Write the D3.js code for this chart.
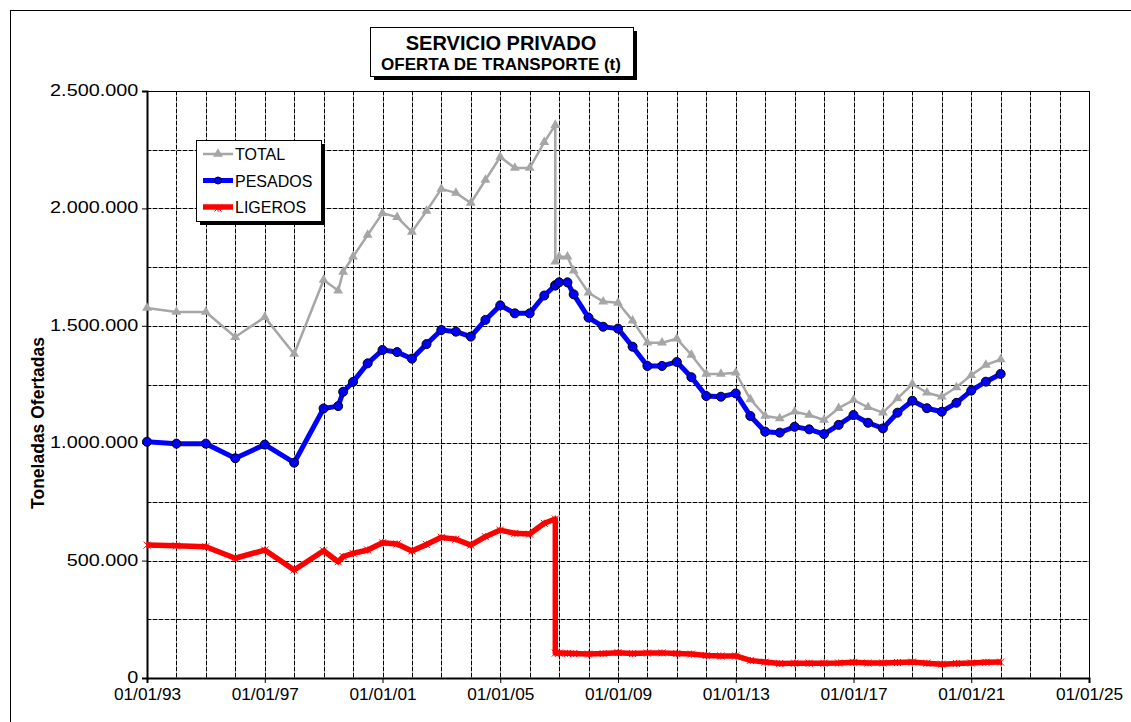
<!DOCTYPE html>
<html>
<head>
<meta charset="utf-8">
<script src="https://cdn.jsdelivr.net/npm/d3@7"></script>
<style>
  body { margin: 0; background: #fff; }
  svg { display: block; }
  text { font-family: Arial, "Liberation Sans", sans-serif; fill: #000; }
</style>
</head>
<body>
<svg id="chart" width="1131" height="722"></svg>
<script>
// Observation dates (yearly to 1999, half-yearly afterwards; series break in late 2006)
const dates = [
  "1993-01-01","1994-01-01","1995-01-01","1996-01-01","1997-01-01","1998-01-01",
  "1999-01-01","1999-07-01","1999-09-01","2000-01-01","2000-07-01","2001-01-01",
  "2001-07-01","2002-01-01","2002-07-01","2003-01-01","2003-07-01","2004-01-01",
  "2004-07-01","2005-01-01","2005-07-01","2006-01-01","2006-07-01","2006-11-15",
  "2006-11-15","2007-01-01","2007-04-15","2007-07-01","2008-01-01","2008-07-01",
  "2009-01-01","2009-07-01","2010-01-01","2010-07-01","2011-01-01","2011-07-01",
  "2012-01-01","2012-07-01","2013-01-01","2013-07-01","2014-01-01","2014-07-01",
  "2015-01-01","2015-07-01","2016-01-01","2016-07-01","2017-01-01","2017-07-01",
  "2018-01-01","2018-07-01","2019-01-01","2019-07-01","2020-01-01","2020-07-01",
  "2021-01-01","2021-07-01","2022-01-01"
];

// Tonnes offered
const total = [
  1576000,1559000,1559000,1452000,1537000,1380000,
  1695000,1650000,1730000,1794000,1887000,1980000,
  1963000,1900000,1989000,2083000,2066000,2023000,
  2121000,2219000,2172000,2172000,2282000,2355000,
  1773000,1794000,1794000,1735000,1641000,1603000,
  1598000,1522000,1428000,1428000,1445000,1376000,
  1295000,1295000,1300000,1187000,1116000,1106000,
  1134000,1120000,1099000,1149000,1184000,1153000,
  1130000,1191000,1252000,1215000,1198000,1238000,
  1290000,1333000,1357000
];
const pesados = [
  1006000,998000,998000,936000,994000,917000,
  1148000,1158000,1219000,1261000,1340000,1397000,
  1388000,1360000,1422000,1482000,1475000,1454000,
  1525000,1587000,1553000,1553000,1629000,1672000,
  1672000,1685000,1685000,1634000,1535000,1496000,
  1488000,1411000,1329000,1329000,1346000,1281000,
  1201000,1198000,1212000,1116000,1049000,1045000,
  1070000,1059000,1039000,1078000,1120000,1087000,
  1063000,1130000,1181000,1149000,1134000,1172000,
  1224000,1262000,1295000
];
const ligeros = [
  566000,563000,559000,510000,545000,460000,
  542000,495000,517000,531000,545000,576000,
  571000,541000,569000,599000,591000,566000,
  602000,630000,616000,613000,659000,677000,
  106000,106000,105000,104000,102000,104000,
  108000,104000,106000,107000,104000,102000,
  96000,94000,94000,75000,68000,62000,
  63000,63000,63000,64000,67000,64000,
  64000,66000,68000,63000,59000,62000,
  64000,67000,68000
];

const seriesNames = ["TOTAL", "PESADOS", "LIGEROS"];
const yTicks = [0, 500000, 1000000, 1500000, 2000000, 2500000];
const yGridStep = 250000;
const xTickYears = [1993, 1997, 2001, 2005, 2009, 2013, 2017, 2021, 2025];
const titleLines = ["SERVICIO PRIVADO", "OFERTA DE TRANSPORTE (t)"];
const yTitle = "Toneladas Ofertadas";

const parse = d3.timeParse("%Y-%m-%d");
const when = dates.map(parse);

const svg = d3.select("#chart");
const W = 1131, H = 722;
const plot = { left: 147, right: 1089, top: 91, bottom: 678 };

const x = d3.scaleTime()
  .domain([new Date(1993, 0, 1), new Date(2025, 0, 1)])
  .range([plot.left, plot.right]);
const y = d3.scaleLinear()
  .domain([0, 2500000])
  .range([plot.bottom, plot.top]);

const es = d3.formatLocale({ decimal: ",", thousands: ".", grouping: [3], currency: ["", " €"] });
const fmtY = es.format(",.0f");
const fmtX = d3.timeFormat("%d/%m/%y");

// outer frame
svg.append("rect")
  .attr("x", 10.5).attr("y", 10.5)
  .attr("width", W).attr("height", H)
  .attr("fill", "#fff").attr("stroke", "#000").attr("stroke-width", 1);

// plot background
svg.append("rect")
  .attr("x", plot.left).attr("y", plot.top)
  .attr("width", plot.right - plot.left).attr("height", plot.bottom - plot.top)
  .attr("fill", "#fff");

// grid: gray rule under black dashes
const grid = svg.append("g");
const yearLines = d3.timeYear.range(new Date(1994, 0, 1), new Date(2025, 0, 2));
const hLines = d3.range(yGridStep, 2500000 + 1, yGridStep);
function gridLayer(color, dash, width) {
  const g = grid.append("g").attr("stroke", color).attr("stroke-width", width)
    .attr("stroke-dasharray", dash).attr("fill", "none");
  g.selectAll("line.v").data(yearLines).join("line").attr("class", "v")
    .attr("x1", d => Math.round(x(d)) + 0.5).attr("x2", d => Math.round(x(d)) + 0.5)
    .attr("y1", plot.top).attr("y2", plot.bottom);
  g.selectAll("line.h").data(hLines).join("line").attr("class", "h")
    .attr("x1", plot.left).attr("x2", plot.right)
    .attr("y1", d => Math.round(y(d)) + 0.5).attr("y2", d => Math.round(y(d)) + 0.5);
}
gridLayer("#a0a0a0", null, 1);
gridLayer("#000", "4,2", 1);

// plot frame
svg.append("rect")
  .attr("x", plot.left + 0.5).attr("y", plot.top + 0.5)
  .attr("width", plot.right - plot.left).attr("height", plot.bottom - plot.top)
  .attr("fill", "none").attr("stroke", "#000").attr("stroke-width", 1);

// axes (tick labels are set wide, as in the printed sheet)
const yAxis = d3.axisLeft(y).tickValues(yTicks).tickFormat(fmtY).tickSize(5).tickPadding(2);
const gy = svg.append("g").attr("transform", `translate(${plot.left},0)`).call(yAxis);
gy.select(".domain").attr("stroke-width", 2);
gy.selectAll("text").attr("font-size", 16).attr("font-family", "Arial, 'Liberation Sans', sans-serif")
  .attr("dy", "0.28em")
  .attr("transform", "scale(1.24,1)");

const xAxis = d3.axisBottom(x)
  .tickValues(xTickYears.map(yr => new Date(yr, 0, 1)))
  .tickFormat(fmtX).tickSize(5).tickPadding(6);
const gx = svg.append("g").attr("transform", `translate(0,${plot.bottom})`).call(xAxis);
gx.select(".domain").attr("stroke-width", 2);
gx.selectAll("text").attr("font-size", 16).attr("font-family", "Arial, 'Liberation Sans', sans-serif")
  .attr("transform", "scale(1.08,1)");

// y title
svg.append("text")
  .attr("transform", `translate(44,423) rotate(-90)`)
  .attr("text-anchor", "middle")
  .attr("font-size", 17.5).attr("font-weight", "bold")
  .text(yTitle);

// series
const rows = when.map((d, i) => ({ d, t: total[i], p: pesados[i], l: ligeros[i] }));
const lineOf = key => d3.line().x(r => x(r.d)).y(r => y(r[key]));

const styles = {
  TOTAL:   { key: "t", color: "#a6a6a6", width: 2.5 },
  PESADOS: { key: "p", color: "#0000ff", width: 5 },
  LIGEROS: { key: "l", color: "#ff0000", width: 5.5 }
};

const triangle = d3.symbol().type(d3.symbolTriangle).size(42);
function star(g, cx, cy, color) {
  const s = 3.5;
  g.append("path")
    .attr("d", `M${cx - s},${cy - s}L${cx + s},${cy + s}M${cx - s},${cy + s}L${cx + s},${cy - s}M${cx},${cy - s}L${cx},${cy + s}`)
    .attr("stroke", color).attr("stroke-width", 1).attr("fill", "none");
}

// TOTAL
svg.append("path").datum(rows)
  .attr("d", lineOf("t")).attr("fill", "none")
  .attr("stroke", styles.TOTAL.color).attr("stroke-width", styles.TOTAL.width)
  .attr("stroke-linejoin", "round");
svg.append("g").selectAll("path").data(rows).join("path")
  .attr("d", triangle).attr("fill", styles.TOTAL.color)
  .attr("transform", r => `translate(${x(r.d)},${y(r.t)})`);

// LIGEROS
svg.append("path").datum(rows)
  .attr("d", lineOf("l")).attr("fill", "none")
  .attr("stroke", styles.LIGEROS.color).attr("stroke-width", styles.LIGEROS.width)
  .attr("stroke-linejoin", "round");
const gl = svg.append("g");
rows.forEach(r => star(gl, x(r.d), y(r.l), "#ff0000"));

// PESADOS
svg.append("path").datum(rows)
  .attr("d", lineOf("p")).attr("fill", "none")
  .attr("stroke", styles.PESADOS.color).attr("stroke-width", styles.PESADOS.width)
  .attr("stroke-linejoin", "round");
svg.append("g").selectAll("circle").data(rows).join("circle")
  .attr("cx", r => x(r.d)).attr("cy", r => y(r.p)).attr("r", 4.5)
  .attr("fill", "#0000ff").attr("stroke", "#000").attr("stroke-width", 1);

// legend
const lg = svg.append("g").attr("transform", "translate(196,140)");
lg.append("rect").attr("x", 4).attr("y", 4).attr("width", 125).attr("height", 81).attr("fill", "#000");
lg.append("rect").attr("x", 0.5).attr("y", 0.5).attr("width", 125).attr("height", 81)
  .attr("fill", "#fff").attr("stroke", "#000");
seriesNames.forEach((name, i) => {
  const st = styles[name];
  const yy = 14 + i * 26.5;
  lg.append("line").attr("x1", 7).attr("x2", 37).attr("y1", yy).attr("y2", yy)
    .attr("stroke", st.color).attr("stroke-width", st.width);
  if (name === "TOTAL") {
    lg.append("path").attr("d", triangle).attr("fill", st.color).attr("transform", `translate(22,${yy})`);
  } else if (name === "PESADOS") {
    lg.append("circle").attr("cx", 22).attr("cy", yy).attr("r", 3.5)
      .attr("fill", "#0000ff").attr("stroke", "#000");
  } else {
    star(lg, 22, yy + 1, "#ff0000");
  }
  lg.append("text").attr("x", 39).attr("y", yy + 6).attr("font-size", 16).text(name);
});

// title box
const tg = svg.append("g").attr("transform", "translate(370,27)");
tg.append("rect").attr("x", 4).attr("y", 4).attr("width", 263).attr("height", 49).attr("fill", "#000");
tg.append("rect").attr("x", 0.5).attr("y", 0.5).attr("width", 263).attr("height", 49)
  .attr("fill", "#fff").attr("stroke", "#000");
tg.append("text").attr("x", 131).attr("y", 23).attr("text-anchor", "middle")
  .attr("font-size", 20).attr("font-weight", "bold").text(titleLines[0]);
tg.append("text").attr("x", 131).attr("y", 43).attr("text-anchor", "middle")
  .attr("font-size", 17).attr("font-weight", "bold").text(titleLines[1]);
</script>
</body>
</html>
